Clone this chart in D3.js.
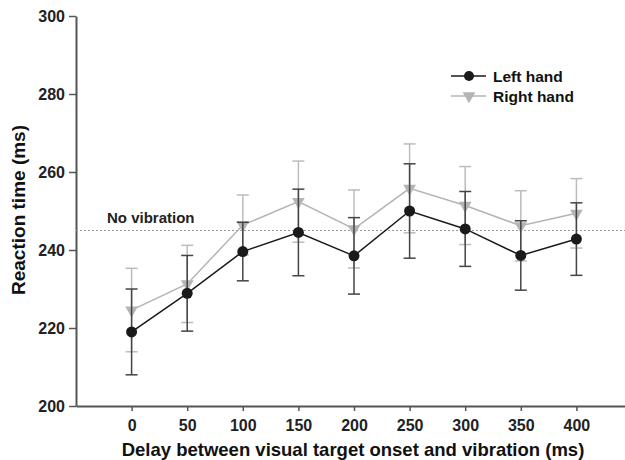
<!DOCTYPE html>
<html>
<head>
<meta charset="utf-8">
<script src="https://cdn.jsdelivr.net/npm/d3@7"></script>
<style>
  body { margin: 0; background: #fff; }
  svg text { font-family: "Liberation Sans", Arial, sans-serif; font-weight: bold; }
</style>
</head>
<body>
<div id="chart"></div>
<script>
(function () {
    "use strict";

    // delays (ms)
    var delays = [0, 50, 100, 150, 200, 250, 300, 350, 400];

    // mean reaction times and error half-widths
    var leftMean  = [219.0, 228.9, 239.6, 244.5, 238.5, 250.0, 245.4, 238.6, 242.8];
    var leftErr   = [11.0, 9.7, 7.5, 11.1, 9.8, 12.1, 9.6, 8.9, 9.3];
    var rightMean = [224.6, 231.3, 246.4, 252.4, 245.4, 255.8, 251.4, 246.2, 249.4];
    var rightErr  = [10.7, 9.9, 7.7, 10.4, 10.0, 11.4, 10.0, 9.0, 8.9];

    var yTicks = [200, 220, 240, 260, 280, 300];
    var baseline = 245;   // no vibration condition

    var W = 625, H = 460;

    var x = d3.scaleLinear().domain([-50, 450]).range([76, 632]);
    var y = d3.scaleLinear().domain([200, 300]).range([406, 16]);

    var svg = d3.select("#chart").append("svg")
        .attr("width", W).attr("height", H);

    // axes
    var yAxis = svg.append("g")
        .attr("transform", "translate(" + x(-50) + ",0)")
        .call(d3.axisLeft(y).tickValues(yTicks).tickSize(7).tickSizeOuter(0).tickPadding(4));

    var xAxis = svg.append("g")
        .attr("transform", "translate(0," + y(200) + ")")
        .call(d3.axisBottom(x).tickValues(delays).tickSize(5).tickSizeOuter(0).tickPadding(9));

    [yAxis, xAxis].forEach(function (g) {
        g.select(".domain").attr("stroke", "#555").attr("stroke-width", 2);
        g.selectAll(".tick line").attr("stroke", "#555").attr("stroke-width", 1.5);
        g.selectAll(".tick text").attr("fill", "#222").style("font-size", "16px");
    });

    // axis titles
    svg.append("text")
        .attr("transform", "translate(25,210) rotate(-90)")
        .attr("text-anchor", "middle")
        .attr("fill", "#111")
        .style("font-size", "19px")
        .text("Reaction time (ms)");

    svg.append("text")
        .attr("x", 353).attr("y", 456)
        .attr("text-anchor", "middle")
        .attr("fill", "#111")
        .style("font-size", "18.5px")
        .text("Delay between visual target onset and vibration (ms)");

    // no vibration reference line
    svg.append("line")
        .attr("x1", x(-50)).attr("x2", W)
        .attr("y1", y(baseline)).attr("y2", y(baseline))
        .attr("stroke", "#999").attr("stroke-width", 1.2)
        .attr("stroke-dasharray", "2,2");

    svg.append("text")
        .attr("x", 107).attr("y", y(baseline) - 8)
        .attr("fill", "#222")
        .style("font-size", "15px")
        .text("No vibration");

    var series = [
        { name: "Right hand", mean: rightMean, err: rightErr, color: "#b4b4b4", barColor: "#bcbcbc", shape: "tri" },
        { name: "Left hand",  mean: leftMean,  err: leftErr,  color: "#1a1a1a", barColor: "#444",    shape: "circle" }
    ];

    var line = d3.line()
        .x(function (d) { return x(d.x); })
        .y(function (d) { return y(d.y); });

    var tri = d3.symbol().type(d3.symbolTriangle).size(70);

    series.forEach(function (s) {
        var pts = delays.map(function (d, i) { return { x: d, y: s.mean[i], e: s.err[i] }; });
        var g = svg.append("g");

        // error bars
        var eb = g.selectAll(".eb").data(pts).enter().append("g");
        eb.append("line")
            .attr("x1", function (d) { return x(d.x); })
            .attr("x2", function (d) { return x(d.x); })
            .attr("y1", function (d) { return y(d.y - d.e); })
            .attr("y2", function (d) { return y(d.y + d.e); })
            .attr("stroke", s.barColor).attr("stroke-width", 1.5);
        [-1, 1].forEach(function (sgn) {
            eb.append("line")
                .attr("x1", function (d) { return x(d.x) - 6; })
                .attr("x2", function (d) { return x(d.x) + 6; })
                .attr("y1", function (d) { return y(d.y + sgn * d.e); })
                .attr("y2", function (d) { return y(d.y + sgn * d.e); })
                .attr("stroke", s.barColor).attr("stroke-width", 1.5);
        });

        g.append("path")
            .datum(pts)
            .attr("d", line)
            .attr("fill", "none")
            .attr("stroke", s.color)
            .attr("stroke-width", 1.5);

        if (s.shape === "circle") {
            g.selectAll("circle").data(pts).enter().append("circle")
                .attr("cx", function (d) { return x(d.x); })
                .attr("cy", function (d) { return y(d.y); })
                .attr("r", 5.5)
                .attr("fill", s.color);
        } else {
            g.selectAll("path.m").data(pts).enter().append("path")
                .attr("class", "m")
                .attr("d", tri)
                .attr("transform", function (d) { return "translate(" + x(d.x) + "," + y(d.y) + ") rotate(180)"; })
                .attr("fill", s.color);
        }
    });

    // legend
    var legend = [
        { name: "Left hand",  color: "#1a1a1a", shape: "circle", yy: 76 },
        { name: "Right hand", color: "#b4b4b4", shape: "tri",    yy: 96 }
    ];
    legend.forEach(function (l) {
        svg.append("line")
            .attr("x1", 451).attr("x2", 486)
            .attr("y1", l.yy).attr("y2", l.yy)
            .attr("stroke", l.color).attr("stroke-width", 1.5);
        if (l.shape === "circle") {
            svg.append("circle").attr("cx", 469).attr("cy", l.yy).attr("r", 5).attr("fill", l.color);
        } else {
            svg.append("path").attr("d", tri)
                .attr("transform", "translate(469," + l.yy + ") rotate(180)")
                .attr("fill", l.color);
        }
        svg.append("text")
            .attr("x", 493).attr("y", l.yy + 5.5)
            .attr("fill", "#111")
            .style("font-size", "15.5px")
            .text(l.name);
    });
}());
</script>
</body>
</html>
